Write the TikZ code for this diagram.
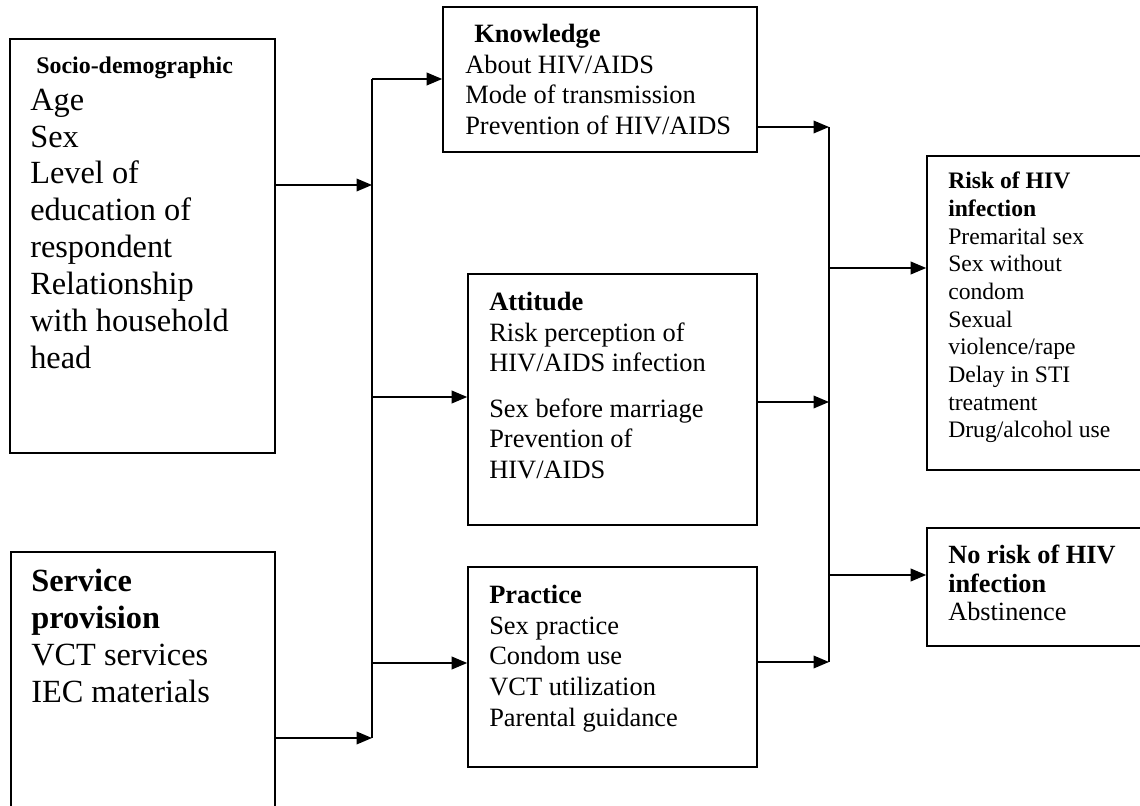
\documentclass[tikz,border=0pt]{standalone}
\usepackage{fontspec}
\setmainfont{Liberation Serif}
\usepackage{tikz}
\usetikzlibrary{arrows.meta}

\tikzset{
    box/.style={draw, line width=1.1pt, inner sep=0pt},
    boxtext/.style={anchor=north west, inner sep=0pt, align=left},
    arr/.style={line width=1.1pt, -{Triangle[length=11pt,width=9pt]}},
    bus/.style={line width=1.1pt}
}

\newcommand{\bigtext}{\fontsize{23}{26.2}\selectfont}
\newcommand{\midtext}{\fontsize{18.8}{21.8}\selectfont}

\begin{document}
\begin{tikzpicture}[x=0.025cm, y=-0.025cm]
        \useasboundingbox (0,0) rectangle (1140,806);
        \clip (0,0) rectangle (1140,806);

        %boxes
        \node[box, minimum width=6.625cm, minimum height=10.35cm] (socio) at (142.5,246) {};
        \node[box, minimum width=6.6cm, minimum height=6.95cm] (service) at (143,691) {};
        \node[box, minimum width=7.85cm, minimum height=3.625cm] (know) at (600,79.5) {};
        \node[box, minimum width=7.225cm, minimum height=6.275cm] (att) at (612.5,399.5) {};
        \node[box, minimum width=7.225cm, minimum height=5cm] (prac) at (612.5,667) {};
        \node[box, minimum width=5.825cm, minimum height=7.85cm] (risk) at (1043.5,313) {};
        \node[box, minimum width=5.825cm, minimum height=2.95cm] (norisk) at (1043.5,587) {};

        %texts
        \node[boxtext, font=\bigtext] (sociotext) at (30,56.5)
            {\hspace*{4.3pt}\fontsize{17}{19}\selectfont\bfseries Socio-demographic\\
             Age\\ Sex\\ Level of\\ education of\\ respondent\\ Relationship\\
             with household\\ head};
        \node[boxtext, font=\bigtext] (servicetext) at (31,569)
            {\bfseries Service\\ \bfseries provision\\ VCT services\\ IEC materials};
        \node[boxtext, font=\midtext] (knowtext) at (465,23.8)
            {\hspace*{6.4pt}\bfseries Knowledge\\ About HIV/AIDS\\ Mode of transmission\\
             Prevention of HIV/AIDS};
        \node[boxtext, font=\midtext] (atttext) at (489,291.8)
            {\bfseries Attitude\\ Risk perception of\\ HIV/AIDS infection\\[10.5pt]
             Sex before marriage\\ Prevention of\\ HIV/AIDS};
        \node[boxtext, font=\midtext] (practext) at (489,585)
            {\bfseries Practice\\ Sex practice\\ Condom use\\ VCT utilization\\
             Parental guidance};
        \node[boxtext, font=\fontsize{16.8}{19.7}\selectfont] (risktext) at (948,171.7)
            {\bfseries Risk of HIV\\ \bfseries infection\\ Premarital sex\\ Sex without\\
             condom\\ Sexual\\ violence/rape\\ Delay in STI\\ treatment\\
             Drug/alcohol use};
        \node[boxtext, font=\fontsize{18.7}{20.3}\selectfont] (norisktext) at (948,545)
            {\bfseries No risk of HIV\\ \bfseries infection\\ Abstinence};

        %left bus
        \coordinate (lb1) at (372,79);
        \coordinate (lb2) at (372,185);
        \coordinate (lb3) at (372,397);
        \coordinate (lb4) at (372,663);
        \coordinate (lb5) at (372,738);
        \draw[bus] (lb1) -- (lb5);
        \draw[arr] (socio.east |- lb2) -- (lb2);
        \draw[arr] (service.east |- lb5) -- (lb5);
        \draw[arr] (lb1) -- (lb1 -| know.west);
        \draw[arr] (lb3) -- (lb3 -| att.west);
        \draw[arr] (lb4) -- (lb4 -| prac.west);

        %right bus
        \coordinate (rb1) at (829,127);
        \coordinate (rb2) at (829,268);
        \coordinate (rb3) at (829,402);
        \coordinate (rb4) at (829,575);
        \coordinate (rb5) at (829,662);
        \draw[bus] (rb1) -- (rb5);
        \draw[arr] (know.east |- rb1) -- (rb1);
        \draw[arr] (att.east |- rb3) -- (rb3);
        \draw[arr] (prac.east |- rb5) -- (rb5);
        \draw[arr] (rb2) -- (rb2 -| risk.west);
        \draw[arr] (rb4) -- (rb4 -| norisk.west);
    \end{tikzpicture}
\end{document}
